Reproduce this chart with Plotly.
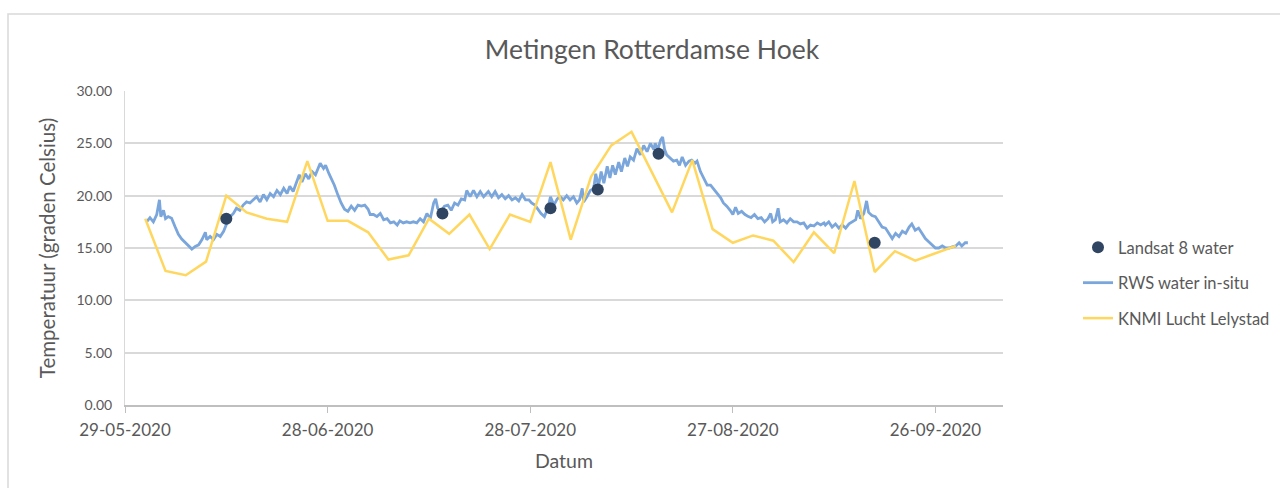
import datetime as dt
import plotly.graph_objects as go

base_date = dt.datetime(2020, 5, 29)

# Landsat 8 water temperature (day offset from 29-05-2020, deg C)
landsat_day = [15, 47, 63, 70, 79, 111]
landsat_temp = [17.8, 18.3, 18.8, 20.6, 24.0, 15.5]

# KNMI air temperature Lelystad
knmi_day = [3, 6, 9, 12, 15, 18, 21, 24, 27, 30, 33, 36, 39, 42, 45, 48, 51, 54, 57, 60,
            63, 66, 69, 72, 75, 78, 81, 84, 87, 90, 93, 96, 99, 102, 105, 108, 111, 114, 117, 120, 123]
knmi_temp = [17.8, 12.8, 12.4, 13.7, 20.0, 18.4, 17.8, 17.5, 23.3, 17.6, 17.6, 16.5, 13.9, 14.3,
             17.8, 16.35, 18.2, 14.9, 18.2, 17.5, 23.2, 15.8, 21.8, 24.8, 26.1, 22.3, 18.4, 23.4,
             16.8, 15.5, 16.2, 15.7, 13.65, 16.5, 14.5, 21.4, 12.7, 14.7, 13.8, 14.5, 15.2]

# RWS water in-situ
rws_day = [3.2, 3.7, 4.2, 4.7, 5.1, 5.3, 5.7, 6.0, 6.4, 6.9, 7.4, 7.9, 8.4, 8.9, 9.4, 9.9, 10.4, 10.9,
           11.4, 11.9, 12.1, 12.6, 13.1, 13.6, 14.1, 14.6, 15.1, 15.6, 16.05, 16.5, 17.0, 17.5, 18.0,
           18.5, 19.0, 19.5, 20.0, 20.5, 21.0, 21.5, 22.0, 22.5, 23.0, 23.5, 24.0, 24.4, 24.9, 25.4,
           25.8, 26.2, 26.7, 27.2, 27.7, 28.2,
           28.9, 29.4, 29.7, 30.2, 30.6, 31.0, 31.5, 32.0, 32.5, 33.0, 33.5, 34.0, 34.5, 35.0, 35.5,
           36.0, 36.3, 36.8, 37.3, 37.8, 38.3, 38.8, 39.3, 39.8, 40.3, 40.7, 41.2, 41.7, 42.2, 42.7,
           43.2, 43.7, 44.2, 44.7, 45.2, 45.7, 46.0, 46.3, 46.8, 47.3, 47.8, 48.3, 48.8, 49.3, 49.8,
           50.3, 50.6, 51.1, 51.6, 52.1, 52.6, 53.1,
           53.8, 54.3, 54.8, 55.3, 55.8, 56.3, 56.8, 57.3, 57.8, 58.3, 58.8, 59.3, 59.8, 60.2, 60.7,
           61.2, 61.6, 62.1, 62.6, 63.0, 63.5, 64.0, 64.4, 64.9, 65.4, 65.9, 66.4, 66.9, 67.3, 67.7,
           67.9, 68.4, 68.9, 69.4, 69.7, 70.1, 70.5, 70.9, 71.4, 71.8, 72.2, 72.6, 73.1, 73.5, 74.0,
           74.4, 74.8, 75.3, 75.8, 76.3, 76.8, 77.3, 77.8, 78.3,
           78.5, 78.9, 79.3, 79.6, 79.9, 80.2, 80.7, 81.2, 81.7, 82.1, 82.5, 83.0, 83.5, 83.9, 84.4,
           84.7, 85.2, 85.7, 86.2, 86.7, 87.2, 87.7, 88.2, 88.6, 89.1, 89.6, 90.0, 90.4, 90.8, 91.3,
           91.8, 92.3, 92.7, 93.2, 93.7, 94.2, 94.7, 95.2, 95.6, 95.9, 96.3, 96.7, 97.0, 97.5, 98.0,
           98.5, 99.0, 99.5, 100.0, 100.5, 101.0, 101.5, 102.0, 102.5, 103.0, 103.5,
           103.7, 104.2, 104.7, 105.2, 105.7, 106.2, 106.7, 107.2, 107.7, 108.2, 108.5, 108.9, 109.4,
           109.8, 110.1, 110.6, 111.1, 111.6, 112.1, 112.6, 113.1, 113.6, 114.1, 114.6, 115.1, 115.6,
           116.1, 116.5, 117.0, 117.5, 118.0, 118.5, 119.0, 119.5, 120.0, 120.5, 121.0, 121.5, 122.0,
           122.5, 123.0, 123.5, 123.9, 124.4, 124.8]
rws_temp = [17.5, 17.9, 17.5, 18.2, 19.6, 18.0, 18.6, 17.8, 18.0, 17.85, 17.05, 16.3, 15.85, 15.5,
            15.15, 14.9, 15.15, 15.3, 15.8, 16.5, 15.8, 16.1, 15.8, 16.3, 16.1, 16.6, 17.4, 18.0,
            18.3, 18.8, 18.6, 19.1, 19.4, 19.3, 19.6, 19.9, 19.4, 20.1, 19.6, 20.2, 19.9, 20.5, 20.1,
            20.7, 20.2, 20.9, 20.4, 21.2, 22.0, 21.3, 22.1, 21.6, 22.3, 22.0,
            23.1, 22.6, 22.9, 22.1, 21.6, 21.0, 20.1, 19.3, 18.7, 18.5, 19.0, 18.6, 19.1, 19.0, 19.1,
            18.7, 18.2, 18.2, 18.0, 18.3, 17.7, 17.8, 17.4, 17.5, 17.2, 17.6, 17.4, 17.5, 17.4, 17.5,
            17.4, 17.8, 17.5, 18.3, 17.8, 19.3, 19.7, 18.8, 18.5, 19.0, 19.1, 18.6, 19.3, 19.1, 19.7,
            19.6, 20.5, 19.9, 20.5, 19.9, 20.4, 19.9,
            20.4, 19.9, 20.4, 19.8, 20.1, 19.7, 20.0, 19.6, 19.8, 19.5, 20.1, 19.6, 19.6, 19.3, 19.1,
            18.6, 18.3, 18.0, 18.8, 19.9, 19.1, 19.7, 19.9, 19.6, 20.0, 19.6, 19.9, 19.3, 19.6, 20.7,
            19.4, 19.9, 20.5, 20.7, 22.1, 20.9, 22.3, 21.2, 22.8, 21.7, 22.9, 22.0, 23.2, 22.3, 23.6,
            22.8, 23.7, 23.4, 24.5, 23.9, 24.8, 24.2, 25.0, 24.4,
            25.0, 24.4, 25.3, 25.6, 24.4, 23.9, 23.6, 23.3, 23.4, 22.9, 23.7, 22.9, 23.3, 23.4, 23.1,
            23.3, 22.3, 21.7, 21.0, 21.0, 20.6, 20.1, 19.8, 19.3, 19.0, 18.6, 18.2, 18.9, 18.3, 18.5,
            18.2, 18.0, 17.9, 18.2, 17.8, 17.9, 17.5, 17.8, 18.3, 17.5, 17.7, 18.8, 17.5, 17.7, 17.4,
            17.8, 17.5, 17.5, 17.3, 17.4, 16.9, 17.2, 17.1, 17.4, 17.2, 17.4,
            17.2, 17.5, 17.0, 17.3, 16.9, 17.2, 16.9, 17.3, 17.5, 17.7, 18.6, 17.8, 18.3,
            19.5, 18.4, 18.1, 18.0, 17.5, 17.0, 16.9, 16.4, 15.9, 16.4, 16.1, 16.6, 16.4,
            17.0, 17.3, 16.7, 16.9, 16.4, 15.9, 15.6, 15.3, 15.0, 15.0, 15.2, 15.0, 15.0,
            15.1, 15.2, 15.5, 15.2, 15.5, 15.5]

tick_days = [0, 30, 60, 90, 120]
y_ticks = [0, 5, 10, 15, 20, 25, 30]


def to_dates(days):
    return [base_date + dt.timedelta(days=d) for d in days]


FONT = "Lato"
TXT = "#595959"
GRID = "#D9D9D9"

fig = go.Figure()
fig.add_trace(go.Scatter(
    x=to_dates(rws_day), y=rws_temp, mode="lines", name="RWS water in-situ",
    line=dict(color="#7AA6DC", width=2.8), legendgroup="b", legendrank=2))
fig.add_trace(go.Scatter(
    x=to_dates(knmi_day), y=knmi_temp, mode="lines", name="KNMI Lucht Lelystad",
    line=dict(color="#FFD75E", width=2.5), legendgroup="c", legendrank=3))
fig.add_trace(go.Scatter(
    x=to_dates(landsat_day), y=landsat_temp, mode="markers", name="Landsat 8 water",
    marker=dict(color="#2F4562", size=12), legendgroup="a", legendrank=1))

W, H = 1280, 488
ml, mr, mt, mb = 125, 277, 91, 83
pw, ph = W - ml - mr, H - mt - mb

fig.update_layout(
    width=W, height=H,
    margin=dict(l=ml, r=mr, t=mt, b=mb, autoexpand=False),
    paper_bgcolor="white", plot_bgcolor="white",
    font=dict(family=FONT, color=TXT, size=14),
    title=dict(text="Metingen Rotterdamse Hoek", x=652 / W, xanchor="center",
               y=1 - 50 / H, yanchor="middle", font=dict(size=26.5, color=TXT, family=FONT)),
    legend=dict(xref="container", yref="container", x=1078 / W, xanchor="left",
                y=1 - 230 / H, yanchor="top",
                font=dict(size=16.5, color=TXT, family=FONT), tracegroupgap=11,
                traceorder="grouped", bgcolor="rgba(0,0,0,0)"),
    showlegend=True,
    xaxis=dict(
        type="date", automargin=False,
        range=[base_date, base_date + dt.timedelta(days=130)],
        tickvals=to_dates(tick_days),
        ticktext=[d.strftime("%d-%m-%Y") for d in to_dates(tick_days)],
        showgrid=False, showline=True, linecolor="#BFBFBF", linewidth=1.5,
        ticks="outside", ticklen=6, tickcolor="#BFBFBF", ticklabelstandoff=3,
        tickfont=dict(size=17, color=TXT), zeroline=False,
        title=dict(text="Datum", font=dict(size=19.5, color=TXT), standoff=15),
    ),
    yaxis=dict(
        range=[0, 30], tickvals=y_ticks, ticktext=[f"{v:.2f}" for v in y_ticks],
        automargin=False,
        showgrid=True, gridcolor=GRID, gridwidth=1.5,
        showline=True, linecolor="#D9D9D9", linewidth=1, zeroline=False,
        ticks="", tickfont=dict(size=14, color=TXT), ticklabelstandoff=9,
        title=dict(text="Temperatuur (graden Celsius)", font=dict(size=20.5, color=TXT), standoff=15),
    ),
    shapes=[dict(type="rect", xref="paper", yref="paper",
                 x0=(8 - ml) / pw, x1=(W + 20 - ml) / pw,
                 y0=-(H + 20 - (H - mb)) / ph, y1=(H - mb - 14) / ph,
                 line=dict(color="#D9D9D9", width=1.5), fillcolor="rgba(0,0,0,0)", layer="below")],
)

fig.write_html("out.html", config={"displayModeBar": False},
               post_script="document.body.style.margin='0';")
